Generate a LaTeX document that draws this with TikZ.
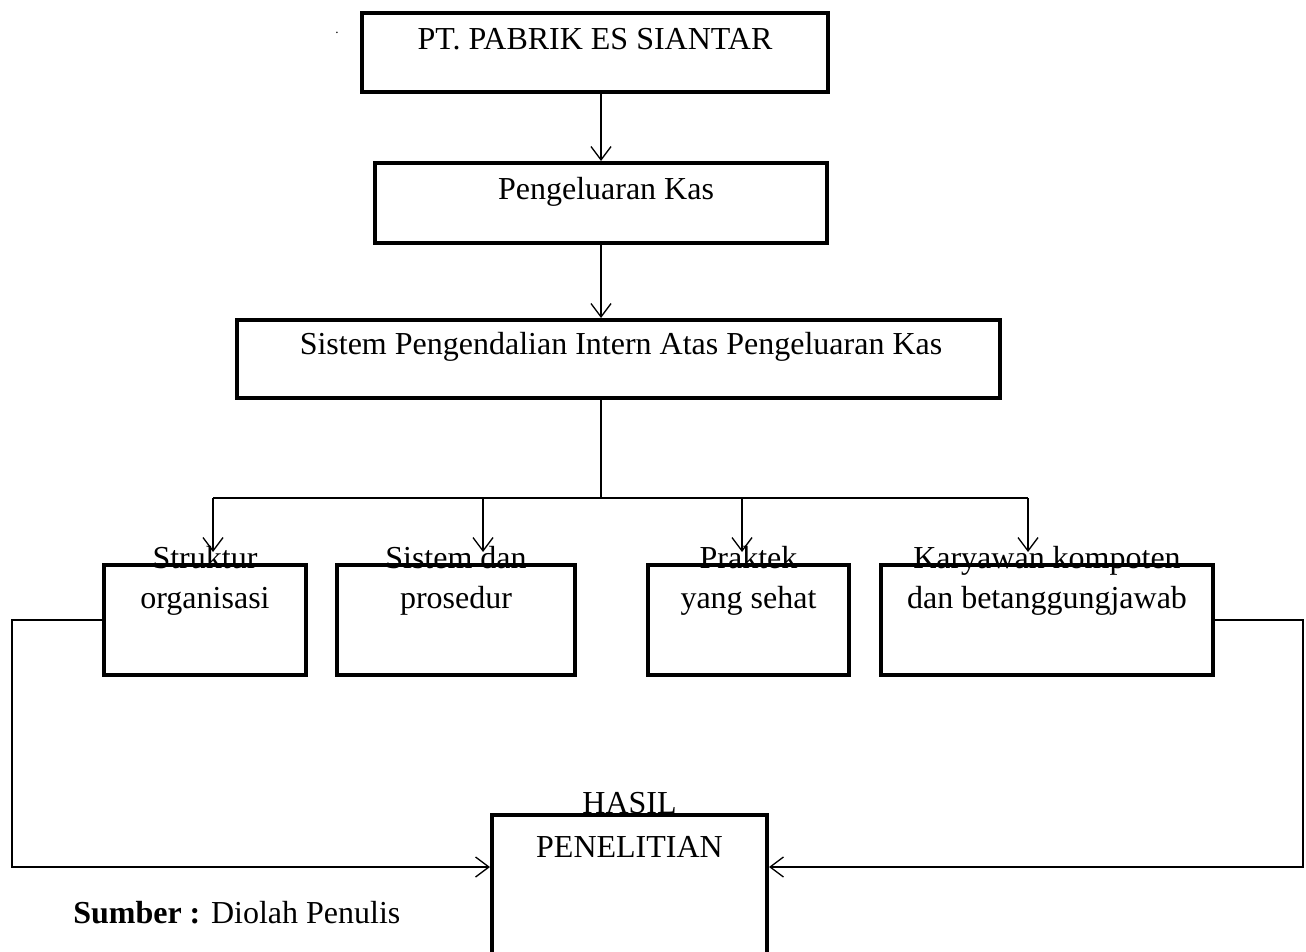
\documentclass[tikz,border=0pt]{standalone}
\usepackage{fontspec}
\setmainfont{Liberation Serif}
\usetikzlibrary{arrows.meta}

\begin{document}
\begin{tikzpicture}[x=0.75pt, y=-0.75pt,
  >={Straight Barb[length=10pt, width=15pt]},
  box/.style={draw, line width=3pt, inner sep=0pt, minimum height=82.5pt},
  txt/.style={anchor=base, align=center, inner sep=0pt,
              font=\fontsize{24}{30}\selectfont},
  conn/.style={line width=1pt}]

  \useasboundingbox (0,0) rectangle (1306,952);

  % Kotak atas
  \node[box, minimum width=349.5pt, minimum height=59.25pt] (pt) at (595, 52.5) {};
  \node[txt] (ptlbl) at (595, 50) {PT. PABRIK ES SIANTAR};
  \node[anchor=base, inner sep=0pt, font=\fontsize{10}{12}\selectfont] (dot) at (337, 34) {.};

  \node[box, minimum width=339pt, minimum height=60pt] (kas) at (601, 203) {};
  \node[txt] (kaslbl) at (606, 200) {Pengeluaran Kas};

  \node[box, minimum width=572.25pt, minimum height=58.5pt] (spi) at (618.5, 359) {};
  \node[txt] (spilbl) at (621, 354) {Sistem Pengendalian Intern Atas Pengeluaran Kas};

  % Unsur pengendalian
  \node[box, minimum width=151.5pt] (struktur) at (205, 620) {};
  \node[txt] (strukturlbl) at (205, 608) {Struktur\\organisasi};

  \node[box, minimum width=178.5pt] (sistem) at (456, 620) {};
  \node[txt] (sistemlbl) at (456, 608) {Sistem dan\\prosedur};

  \node[box, minimum width=150.75pt] (praktek) at (748.5, 620) {};
  \node[txt] (prakteklbl) at (748.5, 608) {Praktek\\yang sehat};

  \node[box, minimum width=249pt] (karyawan) at (1047, 620) {};
  \node[txt] (karyawanlbl) at (1047, 608) {Karyawan kompoten\\dan betanggungjawab};

  % Hasil
  \node[box, minimum width=206.25pt, minimum height=112.5pt] (hasil) at (629.5, 890) {};
  \node[txt, font=\fontsize{24}{33}\selectfont] (hasillbl) at (629.5, 857) {HASIL\\PENELITIAN};

  \node[anchor=base west, inner sep=0pt, font=\fontsize{24}{30}\selectfont] (sumber)
    at (73, 923) {\textbf{Sumber :} Diolah Penulis};

  % Titik bantu
  \coordinate (trunk) at (601, 498);
  \coordinate (d1) at (213, 552);
  \coordinate (d2) at (483, 552);
  \coordinate (d3) at (742, 552);
  \coordinate (d4) at (1028, 552);
  \coordinate (lkiri) at (12, 867);
  \coordinate (lkanan) at (1303, 867);

  % Panah
  \draw[conn, ->] (pt.south -| kas.north) -- (kas.north);
  \draw[conn, ->] (kas.south) -- (kas.south |- spi.north);
  \draw[conn] (spi.south -| trunk) -- (trunk);
  \draw[conn] (trunk -| d1) -- (trunk -| d4);
  \foreach \d in {d1, d2, d3, d4}
    \draw[conn, ->] (trunk -| \d) -- (\d);

  % Umpan ke hasil
  \draw[conn, ->] (struktur.west) -| (lkiri) -- (lkiri -| hasil.west);
  \draw[conn, ->] (karyawan.east) -| (lkanan) -- (lkanan -| hasil.east);
\end{tikzpicture}
\end{document}
